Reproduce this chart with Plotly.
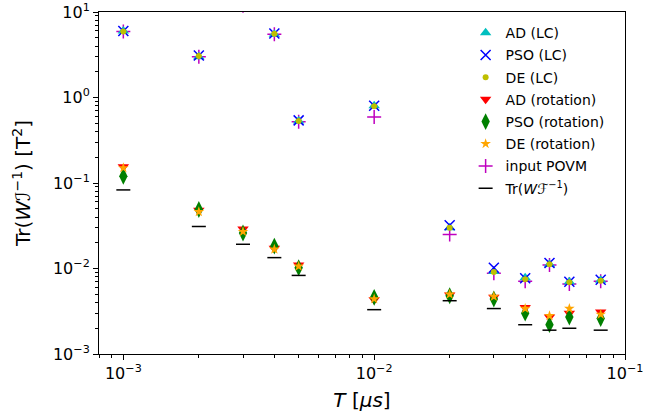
import plotly.graph_objects as go

T = [0.001, 0.002, 0.003, 0.004, 0.005, 0.01, 0.02, 0.03, 0.04, 0.05, 0.06, 0.08]

AD_LC = [6.0, 3.0, 14.0, 5.5, 0.53, 0.80, 0.030, 0.0092, 0.0078, 0.0112, 0.0070, 0.0073]
PSO_LC = [6.0, 3.1, 14.0, 5.6, 0.54, 0.80, 0.032, 0.0102, 0.0077, 0.0116, 0.0070, 0.0074]
DE_LC = [5.9, 3.05, 14.0, 5.55, 0.53, 0.79, 0.030, 0.0091, 0.0075, 0.0112, 0.0069, 0.0072]
AD_ROT = [0.155, 0.048, 0.029, 0.0172, 0.011, 0.0043, 0.0049, 0.0046, 0.0035, 0.0027, 0.0030, 0.0031]
PSO_ROT = [0.120, 0.049, 0.026, 0.0183, 0.0102, 0.0046, 0.0048, 0.0044, 0.0030, 0.0022, 0.0027, 0.0026]
DE_ROT = [0.150, 0.046, 0.027, 0.0168, 0.0106, 0.0044, 0.0050, 0.0047, 0.0034, 0.0028, 0.0034, 0.0029]
POVM = [5.9, 3.0, 11.8, 5.5, 0.52, 0.59, 0.025, 0.0088, 0.0071, 0.0110, 0.0066, 0.0071]
TR_WF = [0.083, 0.031, 0.0192, 0.0134, 0.0083, 0.0033, 0.0042, 0.0034, 0.0022, 0.0019, 0.0020, 0.0019]

X_TICKS = [0.001, 0.01, 0.1]
X_TICKTEXT = ["10<sup>−3</sup>", "10<sup>−2</sup>", "10<sup>−1</sup>"]
Y_TICKS = [0.001, 0.01, 0.1, 1, 10]
Y_TICKTEXT = ["10<sup>−3</sup>", "10<sup>−2</sup>", "10<sup>−1</sup>", "10<sup>0</sup>", "10<sup>1</sup>"]

# (name, values, marker, draw order)
series = [
    ("AD (LC)", AD_LC, dict(symbol="triangle-up", size=10, color="#00bfbf"), 1),
    ("PSO (LC)", PSO_LC, dict(symbol="x-thin", size=10, color="#0000ff",
                              line=dict(color="#0000ff", width=1.5)), 2),
    ("DE (LC)", DE_LC, dict(symbol="circle", size=6, color="#bfbf00"), 3),
    ("AD (rotation)", AD_ROT, dict(symbol="triangle-down", size=10, color="#ff0000"), 4),
    ("PSO (rotation)", PSO_ROT, dict(symbol="diamond-tall", size=12, color="#008000"), 5),
    ("DE (rotation)", DE_ROT, dict(symbol="star", size=8, color="#ffa500"), 6),
    ("input POVM", POVM, dict(symbol="cross-thin", size=10, color="#bf00bf",
                              line=dict(color="#bf00bf", width=1.5)), 0),
    ("Tr(<i>Wℱ</i><sup>−1</sup>)", TR_WF, dict(symbol="line-ew", size=10, color="black",
                              line=dict(color="black", width=1.5)), 7),
]

fig = go.Figure()
for rank, (name, vals, marker, order) in sorted(enumerate(series), key=lambda t: t[1][3]):
    fig.add_trace(go.Scatter(x=T, y=vals, mode="markers", name=name, marker=marker,
                             legendgroup=f"g{rank}", legendrank=rank + 1))

fig.update_layout(
    width=646, height=418,
    margin=dict(l=99, r=21, t=12, b=64),
    paper_bgcolor="white", plot_bgcolor="white",
    font=dict(family="DejaVu Sans", color="black"),
    showlegend=True,
    legend=dict(x=0.697, y=0.985, xanchor="left", yanchor="top",
                bgcolor="rgba(0,0,0,0)", borderwidth=0,
                font=dict(family="DejaVu Sans", size=14, color="black"),
                tracegroupgap=1, itemwidth=30),
)
fig.update_xaxes(
    type="log", range=[-3.097, -1], automargin=False,
    tickvals=X_TICKS, ticktext=X_TICKTEXT,
    tickfont=dict(size=16, family="DejaVu Sans"),
    ticks="outside", ticklen=5, tickcolor="black",
    showline=True, linecolor="black", linewidth=1, mirror=True,
    showgrid=False, zeroline=False,
    minor=dict(ticks="outside", ticklen=3, tickcolor="black", dtick="D1", showgrid=False),
    title=dict(text="<i>T</i> [<i>μs</i>]", font=dict(size=20, family="DejaVu Sans"), standoff=10),
)
fig.update_yaxes(
    type="log", range=[-3, 1], automargin=False,
    tickvals=Y_TICKS, ticktext=Y_TICKTEXT,
    tickfont=dict(size=16, family="DejaVu Sans"),
    ticks="outside", ticklen=5, tickcolor="black",
    showline=True, linecolor="black", linewidth=1, mirror=True,
    showgrid=False, zeroline=False,
    minor=dict(ticks="outside", ticklen=3, tickcolor="black", dtick="D1", showgrid=False),
    title=dict(text="Tr(<i>Wℐ</i><sup>−1</sup>) [T<sup>2</sup>]", font=dict(size=20, family="DejaVu Sans"), standoff=16),
)

fig.write_html("out.html")
